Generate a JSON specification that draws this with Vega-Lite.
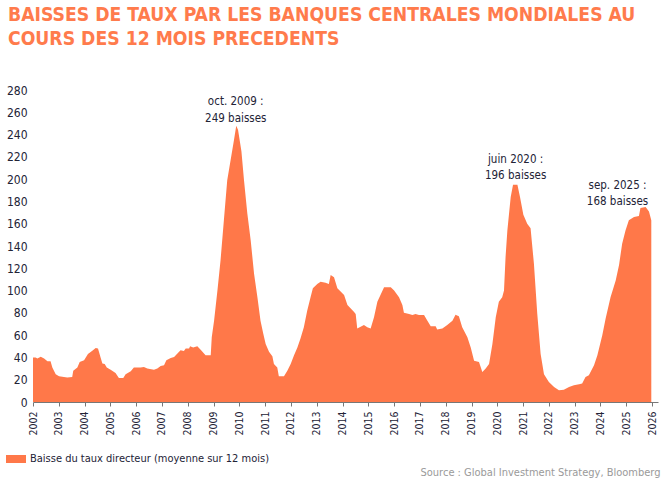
{
  "$schema": "https://vega.github.io/schema/vega-lite/v6.json",
  "autosize": "none",
  "width": 625,
  "height": 312,
  "padding": {"left": 33, "top": 90, "right": 10, "bottom": 86},
  "background": "white",
  "title": {
    "text": ["BAISSES DE TAUX PAR LES BANQUES CENTRALES MONDIALES AU", "COURS DES 12 MOIS PRECEDENTS"],
    "anchor": "start",
    "frame": "group",
    "dx": -25,
    "offset": 35,
    "font": "DejaVu Sans Condensed, sans-serif",
    "fontSize": 19.2,
    "fontWeight": "bold",
    "lineHeight": 24,
    "color": "#FF7B4C"
  },
  "datasets": {
    "baisses": [
      {"t": 2002.00, "v": 40}, {"t": 2002.10, "v": 40}, {"t": 2002.17, "v": 39}, {"t": 2002.30, "v": 40.5},
      {"t": 2002.43, "v": 39}, {"t": 2002.56, "v": 36.5}, {"t": 2002.68, "v": 36.5}, {"t": 2002.75, "v": 31},
      {"t": 2002.88, "v": 25}, {"t": 2003.01, "v": 23}, {"t": 2003.20, "v": 22.5}, {"t": 2003.33, "v": 22},
      {"t": 2003.52, "v": 22.5}, {"t": 2003.56, "v": 28}, {"t": 2003.72, "v": 31}, {"t": 2003.81, "v": 36},
      {"t": 2003.98, "v": 37.5}, {"t": 2004.13, "v": 43}, {"t": 2004.30, "v": 46}, {"t": 2004.43, "v": 48.5},
      {"t": 2004.52, "v": 48}, {"t": 2004.62, "v": 40}, {"t": 2004.69, "v": 34.5}, {"t": 2004.78, "v": 34},
      {"t": 2004.86, "v": 31}, {"t": 2005.01, "v": 29}, {"t": 2005.20, "v": 26}, {"t": 2005.33, "v": 21.5},
      {"t": 2005.50, "v": 21.5}, {"t": 2005.59, "v": 25}, {"t": 2005.79, "v": 27.5}, {"t": 2005.91, "v": 31},
      {"t": 2006.17, "v": 31}, {"t": 2006.30, "v": 31.5}, {"t": 2006.43, "v": 30}, {"t": 2006.69, "v": 29},
      {"t": 2006.82, "v": 30}, {"t": 2006.95, "v": 32.3}, {"t": 2007.08, "v": 33}, {"t": 2007.17, "v": 37.5},
      {"t": 2007.34, "v": 39.5}, {"t": 2007.47, "v": 40.4}, {"t": 2007.59, "v": 43.4}, {"t": 2007.72, "v": 46.4},
      {"t": 2007.85, "v": 45.8}, {"t": 2007.92, "v": 48}, {"t": 2008.05, "v": 48}, {"t": 2008.09, "v": 50},
      {"t": 2008.21, "v": 49}, {"t": 2008.37, "v": 50}, {"t": 2008.50, "v": 47}, {"t": 2008.69, "v": 42},
      {"t": 2008.89, "v": 42}, {"t": 2008.93, "v": 58}, {"t": 2009.02, "v": 73}, {"t": 2009.15, "v": 100},
      {"t": 2009.27, "v": 127}, {"t": 2009.40, "v": 163}, {"t": 2009.53, "v": 199}, {"t": 2009.66, "v": 217},
      {"t": 2009.79, "v": 235}, {"t": 2009.88, "v": 248}, {"t": 2009.95, "v": 244}, {"t": 2010.08, "v": 225},
      {"t": 2010.18, "v": 199}, {"t": 2010.31, "v": 169}, {"t": 2010.44, "v": 145}, {"t": 2010.57, "v": 115},
      {"t": 2010.70, "v": 94}, {"t": 2010.82, "v": 73}, {"t": 2010.93, "v": 61}, {"t": 2011.02, "v": 52},
      {"t": 2011.15, "v": 45}, {"t": 2011.28, "v": 41}, {"t": 2011.34, "v": 34}, {"t": 2011.47, "v": 31},
      {"t": 2011.53, "v": 23}, {"t": 2011.73, "v": 23}, {"t": 2011.86, "v": 28}, {"t": 2011.99, "v": 34},
      {"t": 2012.12, "v": 42}, {"t": 2012.25, "v": 49}, {"t": 2012.37, "v": 57}, {"t": 2012.50, "v": 67},
      {"t": 2012.63, "v": 82}, {"t": 2012.76, "v": 94}, {"t": 2012.85, "v": 102}, {"t": 2013.02, "v": 106},
      {"t": 2013.15, "v": 108}, {"t": 2013.34, "v": 107}, {"t": 2013.47, "v": 106}, {"t": 2013.54, "v": 114},
      {"t": 2013.67, "v": 112}, {"t": 2013.80, "v": 102}, {"t": 2014.06, "v": 96}, {"t": 2014.19, "v": 87},
      {"t": 2014.44, "v": 81}, {"t": 2014.51, "v": 79}, {"t": 2014.57, "v": 66}, {"t": 2014.83, "v": 69},
      {"t": 2014.96, "v": 67}, {"t": 2015.09, "v": 66}, {"t": 2015.22, "v": 76}, {"t": 2015.35, "v": 90},
      {"t": 2015.61, "v": 103}, {"t": 2015.87, "v": 103}, {"t": 2016.00, "v": 100}, {"t": 2016.19, "v": 94},
      {"t": 2016.32, "v": 87}, {"t": 2016.38, "v": 80}, {"t": 2016.58, "v": 79}, {"t": 2016.71, "v": 78},
      {"t": 2016.83, "v": 79}, {"t": 2016.96, "v": 78}, {"t": 2017.16, "v": 78}, {"t": 2017.29, "v": 73},
      {"t": 2017.42, "v": 68}, {"t": 2017.61, "v": 68}, {"t": 2017.67, "v": 65}, {"t": 2017.87, "v": 66},
      {"t": 2018.06, "v": 69}, {"t": 2018.26, "v": 73}, {"t": 2018.38, "v": 78.4}, {"t": 2018.51, "v": 77},
      {"t": 2018.64, "v": 67}, {"t": 2018.84, "v": 58}, {"t": 2018.97, "v": 49}, {"t": 2019.10, "v": 37},
      {"t": 2019.29, "v": 36}, {"t": 2019.42, "v": 27}, {"t": 2019.55, "v": 30}, {"t": 2019.68, "v": 34},
      {"t": 2019.81, "v": 52}, {"t": 2019.94, "v": 76}, {"t": 2020.06, "v": 90}, {"t": 2020.19, "v": 94},
      {"t": 2020.26, "v": 100}, {"t": 2020.32, "v": 130}, {"t": 2020.39, "v": 154}, {"t": 2020.52, "v": 184},
      {"t": 2020.61, "v": 195}, {"t": 2020.78, "v": 195}, {"t": 2020.88, "v": 184}, {"t": 2021.01, "v": 168},
      {"t": 2021.16, "v": 160}, {"t": 2021.29, "v": 156}, {"t": 2021.42, "v": 124}, {"t": 2021.55, "v": 79},
      {"t": 2021.68, "v": 43}, {"t": 2021.81, "v": 25}, {"t": 2022.00, "v": 18}, {"t": 2022.20, "v": 13.5},
      {"t": 2022.39, "v": 10.5}, {"t": 2022.58, "v": 11}, {"t": 2022.78, "v": 13.5}, {"t": 2022.97, "v": 15},
      {"t": 2023.17, "v": 16}, {"t": 2023.29, "v": 16.5}, {"t": 2023.42, "v": 22.5}, {"t": 2023.55, "v": 24},
      {"t": 2023.75, "v": 33}, {"t": 2023.88, "v": 42}, {"t": 2024.07, "v": 60}, {"t": 2024.20, "v": 75},
      {"t": 2024.39, "v": 94}, {"t": 2024.59, "v": 109}, {"t": 2024.72, "v": 123}, {"t": 2024.84, "v": 142},
      {"t": 2024.97, "v": 154}, {"t": 2025.10, "v": 163}, {"t": 2025.30, "v": 166}, {"t": 2025.49, "v": 167},
      {"t": 2025.55, "v": 174}, {"t": 2025.75, "v": 175}, {"t": 2025.88, "v": 171}, {"t": 2025.97, "v": 163}
    ],
    "notes": [
      {"t": 2009.86, "v": 269, "label": "oct. 2009 :\n249 baisses"},
      {"t": 2020.71, "v": 217.5, "label": "juin 2020 :\n196 baisses"},
      {"t": 2024.66, "v": 194, "label": "sep. 2025 :\n168 baisses"}
    ]
  },
  "encoding": {
    "x": {
      "field": "t",
      "type": "quantitative",
      "scale": {"domain": [2002, 2026.23], "nice": false, "zero": false},
      "axis": {
        "values": [2002, 2003, 2004, 2005, 2006, 2007, 2008, 2009, 2010, 2011, 2012, 2013, 2014, 2015, 2016, 2017, 2018, 2019, 2020, 2021, 2022, 2023, 2024, 2025, 2026],
        "format": "d",
        "labelAngle": -90,
        "labelAlign": "right",
        "labelBaseline": "middle",
        "labelOverlap": false,
        "labelPadding": 5,
        "labelFontSize": 10.5,
        "labelColor": "#232336",
        "tickSize": 4,
        "tickColor": "#777777",
        "domainColor": "#777777",
        "grid": false,
        "title": "Source : Global Investment Strategy, Bloomberg",
        "titleAnchor": "end",
        "titleAlign": "right",
        "titleBaseline": "middle",
        "titleX": 627,
        "titleY": 70,
        "titleFontSize": 11,
        "titleFontWeight": "normal",
        "titleColor": "#9a9a9a"
      }
    },
    "y": {
      "field": "v",
      "type": "quantitative",
      "scale": {"domain": [0, 280], "nice": false},
      "axis": {
        "values": [0, 20, 40, 60, 80, 100, 120, 140, 160, 180, 200, 220, 240, 260, 280],
        "domain": false,
        "ticks": false,
        "grid": false,
        "labelOverlap": false,
        "labelPadding": 6,
        "labelFontSize": 12,
        "labelColor": "#232336",
        "title": null
      }
    }
  },
  "layer": [
    {
      "data": {"name": "baisses"},
      "transform": [{"calculate": "'Baisse du taux directeur (moyenne sur 12 mois)'", "as": "serie"}],
      "mark": {"type": "area", "interpolate": "linear"},
      "encoding": {
        "color": {
          "field": "serie",
          "type": "nominal",
          "scale": {"range": ["#FF7849"]},
          "legend": {
            "title": null,
            "orient": "none",
            "legendX": -28,
            "legendY": 358,
            "symbolType": "M-1,-0.4H1V0.4H-1Z",
            "symbolSize": 400,
            "symbolOpacity": 1,
            "labelFontSize": 11,
            "labelLimit": 0,
            "labelColor": "#232336",
            "labelOffset": 3
          }
        }
      }
    },
    {
      "data": {"name": "notes"},
      "mark": {"type": "text", "align": "center", "baseline": "middle", "lineBreak": "\n", "lineHeight": 16.5, "fontSize": 11.5, "color": "#232336"},
      "encoding": {
        "text": {"field": "label"}
      }
    }
  ],
  "config": {
    "font": "DejaVu Sans Condensed, sans-serif",
    "view": {"stroke": null}
  }
}
